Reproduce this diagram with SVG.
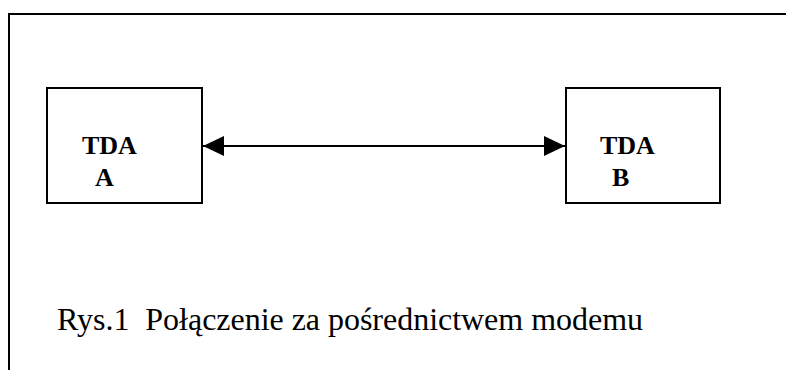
<svg xmlns="http://www.w3.org/2000/svg" width="786" height="370" viewBox="0 0 786 370">
<style>
.frame{fill:none;stroke:#000;stroke-width:2}
.box{fill:#fff;stroke:#000;stroke-width:2}
.lbl{font-family:"Liberation Serif","Times New Roman",serif;font-weight:bold;font-size:26px;fill:#000}
.cap{font-family:"Liberation Serif","Times New Roman",serif;font-size:32px;fill:#000}
.conn{stroke:#000;stroke-width:2;fill:none}
</style>
<defs>
<marker id="ah" viewBox="0 0 21 20" refX="21" refY="10" markerWidth="21" markerHeight="20" markerUnits="userSpaceOnUse" orient="auto-start-reverse">
<path d="M0,0 L21,10 L0,20 Z" fill="#000"/>
</marker>
</defs>
<path class="frame" d="M9,370 L9,14 L786,14"/>
<g id="nodeA">
<rect class="box" x="47" y="88" width="155" height="115"/>
<text class="lbl" x="82" y="154">TDA</text>
<text class="lbl" x="95" y="186">A</text>
</g>
<g id="nodeB">
<rect class="box" x="566" y="88" width="154" height="115"/>
<text class="lbl" x="600" y="154">TDA</text>
<text class="lbl" x="612" y="186">B</text>
</g>
<g id="connectors">
<line class="conn" x1="203" y1="146" x2="565" y2="146" marker-start="url(#ah)" marker-end="url(#ah)"/>
</g>
<g id="caption">
<text class="cap" x="57" y="330" textLength="586" lengthAdjust="spacing" xml:space="preserve">Rys.1  Połączenie za pośrednictwem modemu</text>
</g>
</svg>
